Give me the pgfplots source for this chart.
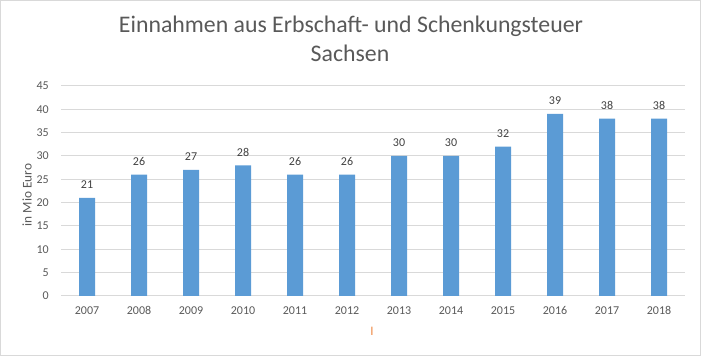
\documentclass[border=0pt]{standalone}
\usepackage{pgfplots}
\pgfplotsset{compat=1.18}
\usepackage{fontspec}
\setmainfont{Carlito}
\definecolor{barblue}{HTML}{5B9BD5}
\definecolor{gridgray}{HTML}{D9D9D9}
\definecolor{txtgray}{HTML}{595959}
\definecolor{lblgray}{HTML}{404040}
\definecolor{orng}{HTML}{ED7D31}
\begin{document}
\begin{tikzpicture}[x=1pt,y=1pt]
\path[use as bounding box] (0,0) rectangle (701,356);
\draw[gridgray, line width=1pt] (0.5,0.5) rectangle (700.5,355.5);
\node[anchor=base, text=txtgray, font=\fontsize{23.8}{28}\selectfont, inner sep=0pt] at (351,323) {Einnahmen aus Erbschaft- und Schenkungsteuer};
\node[anchor=base, text=txtgray, font=\fontsize{23.8}{28}\selectfont, inner sep=0pt] at (350,294) {Sachsen};
\node[rotate=90, text=txtgray, font=\fontsize{13.3}{16}\selectfont, inner sep=0pt] at (27,161) {in Mio Euro};
\node[text=orng, font=\fontsize{12}{14}\selectfont, inner sep=0pt] at (372,25) {l};
\begin{axis}[
  at={(61pt,60pt)}, anchor=south west,
  scale only axis, width=624pt, height=210pt,
  xmin=-0.5, xmax=11.5, ymin=0, ymax=45,
  ytick={0,5,...,45},
  xtick={0,...,11},
  xticklabels={2007,2008,2009,2010,2011,2012,2013,2014,2015,2016,2017,2018},
  /pgf/number format/assume math mode=true,
  axis line style={draw=none},
  tick style={draw=none},
  ymajorgrids,
  major grid style={gridgray, line width=1pt},
  ticklabel style={font=\fontsize{12}{14}\selectfont, text=txtgray},
  yticklabel style={inner sep=0pt, xshift=-12pt},
  xticklabel style={inner sep=0pt, anchor=base, yshift=-19pt},
  clip=false,
]
\addplot[ybar, bar width=16pt, fill=barblue, draw=none,
  nodes near coords,
  every node near coord/.append style={font=\fontsize{12}{14}\selectfont, text=lblgray, inner sep=0pt, anchor=south, yshift=9pt}]
  coordinates {(0,21) (1,26) (2,27) (3,28) (4,26) (5,26) (6,30) (7,30) (8,32) (9,39) (10,38) (11,38)};
\end{axis}
\end{tikzpicture}
\end{document}
